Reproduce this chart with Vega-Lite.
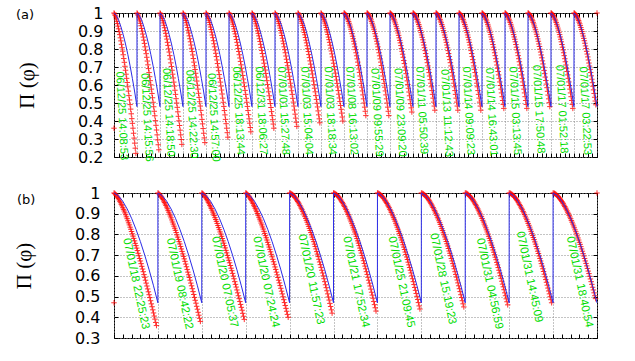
{
"$schema": "https://vega.github.io/schema/vega-lite/v6.json",
"background": "white",
"padding": {"left": 13, "top": 4, "right": 5, "bottom": 5},
"config": {"view": {"stroke": "black", "strokeWidth": 1}, "axis": {"tickColor": "black", "tickWidth": 1}},
"datasets": {
"ra": [
{"x":0,"y":0.36},{"x":21,"y":1},
{"x":0,"y":1},{"x":0.05,"y":0.987},{"x":0.1,"y":0.967},{"x":0.15,"y":0.941},{"x":0.2,"y":0.912},{"x":0.25,"y":0.88},{"x":0.3,"y":0.845},{"x":0.35,"y":0.807},{"x":0.4,"y":0.768},{"x":0.45,"y":0.726},{"x":0.5,"y":0.682},{"x":0.55,"y":0.637},{"x":0.6,"y":0.59},{"x":0.65,"y":0.541},{"x":0.7,"y":0.491},{"x":0.75,"y":0.44},{"x":0.8,"y":0.387},{"x":0.85,"y":0.332},{"x":0.9,"y":0.277},{"x":0.95,"y":0.22},
{"x":1,"y":1},{"x":1.05,"y":0.988},{"x":1.1,"y":0.967},{"x":1.15,"y":0.943},{"x":1.2,"y":0.914},{"x":1.25,"y":0.883},{"x":1.3,"y":0.849},{"x":1.35,"y":0.812},{"x":1.4,"y":0.774},{"x":1.45,"y":0.733},{"x":1.5,"y":0.691},{"x":1.55,"y":0.646},{"x":1.6,"y":0.601},{"x":1.65,"y":0.553},{"x":1.7,"y":0.504},{"x":1.75,"y":0.454},{"x":1.8,"y":0.402},{"x":1.85,"y":0.35},{"x":1.9,"y":0.295},{"x":1.95,"y":0.24},
{"x":2,"y":1},{"x":2.05,"y":0.988},{"x":2.1,"y":0.969},{"x":2.15,"y":0.945},{"x":2.2,"y":0.918},{"x":2.25,"y":0.887},{"x":2.3,"y":0.855},{"x":2.35,"y":0.82},{"x":2.4,"y":0.783},{"x":2.45,"y":0.744},{"x":2.5,"y":0.703},{"x":2.55,"y":0.66},{"x":2.6,"y":0.616},{"x":2.65,"y":0.571},{"x":2.7,"y":0.524},{"x":2.75,"y":0.476},{"x":2.8,"y":0.426},{"x":2.85,"y":0.375},{"x":2.9,"y":0.323},{"x":2.95,"y":0.27},
{"x":3,"y":1},{"x":3.05,"y":0.988},{"x":3.1,"y":0.969},{"x":3.15,"y":0.946},{"x":3.2,"y":0.919},{"x":3.25,"y":0.889},{"x":3.3,"y":0.857},{"x":3.35,"y":0.822},{"x":3.4,"y":0.786},{"x":3.45,"y":0.747},{"x":3.5,"y":0.707},{"x":3.55,"y":0.665},{"x":3.6,"y":0.622},{"x":3.65,"y":0.577},{"x":3.7,"y":0.531},{"x":3.75,"y":0.483},{"x":3.8,"y":0.434},{"x":3.85,"y":0.384},{"x":3.9,"y":0.332},{"x":3.95,"y":0.28},
{"x":4,"y":1},{"x":4.05,"y":0.989},{"x":4.1,"y":0.97},{"x":4.15,"y":0.948},{"x":4.2,"y":0.922},{"x":4.25,"y":0.894},{"x":4.3,"y":0.863},{"x":4.35,"y":0.829},{"x":4.4,"y":0.794},{"x":4.45,"y":0.758},{"x":4.5,"y":0.719},{"x":4.55,"y":0.679},{"x":4.6,"y":0.637},{"x":4.65,"y":0.594},{"x":4.7,"y":0.55},{"x":4.75,"y":0.504},{"x":4.8,"y":0.458},{"x":4.85,"y":0.409},{"x":4.9,"y":0.36},{"x":4.95,"y":0.31},
{"x":5,"y":1},{"x":5.05,"y":0.989},{"x":5.1,"y":0.972},{"x":5.15,"y":0.95},{"x":5.2,"y":0.926},{"x":5.25,"y":0.898},{"x":5.3,"y":0.869},{"x":5.35,"y":0.837},{"x":5.4,"y":0.803},{"x":5.45,"y":0.768},{"x":5.5,"y":0.731},{"x":5.55,"y":0.693},{"x":5.6,"y":0.653},{"x":5.65,"y":0.612},{"x":5.7,"y":0.57},{"x":5.75,"y":0.526},{"x":5.8,"y":0.481},{"x":5.85,"y":0.435},{"x":5.9,"y":0.388},{"x":5.95,"y":0.34},
{"x":6,"y":1},{"x":6.05,"y":0.99},{"x":6.1,"y":0.973},{"x":6.15,"y":0.952},{"x":6.2,"y":0.928},{"x":6.25,"y":0.901},{"x":6.3,"y":0.873},{"x":6.35,"y":0.842},{"x":6.4,"y":0.809},{"x":6.45,"y":0.775},{"x":6.5,"y":0.739},{"x":6.55,"y":0.702},{"x":6.6,"y":0.664},{"x":6.65,"y":0.624},{"x":6.7,"y":0.583},{"x":6.75,"y":0.54},{"x":6.8,"y":0.497},{"x":6.85,"y":0.452},{"x":6.9,"y":0.407},{"x":6.95,"y":0.36},
{"x":7,"y":1},{"x":7.05,"y":0.99},{"x":7.1,"y":0.973},{"x":7.15,"y":0.952},{"x":7.2,"y":0.929},{"x":7.25,"y":0.903},{"x":7.3,"y":0.875},{"x":7.35,"y":0.844},{"x":7.4,"y":0.812},{"x":7.45,"y":0.779},{"x":7.5,"y":0.743},{"x":7.55,"y":0.707},{"x":7.6,"y":0.669},{"x":7.65,"y":0.63},{"x":7.7,"y":0.589},{"x":7.75,"y":0.548},{"x":7.8,"y":0.505},{"x":7.85,"y":0.461},{"x":7.9,"y":0.416},{"x":7.95,"y":0.37},
{"x":8,"y":1},{"x":8.05,"y":0.99},{"x":8.1,"y":0.974},{"x":8.15,"y":0.954},{"x":8.2,"y":0.931},{"x":8.25,"y":0.906},{"x":8.3,"y":0.879},{"x":8.35,"y":0.849},{"x":8.4,"y":0.818},{"x":8.45,"y":0.786},{"x":8.5,"y":0.752},{"x":8.55,"y":0.716},{"x":8.6,"y":0.679},{"x":8.65,"y":0.641},{"x":8.7,"y":0.602},{"x":8.75,"y":0.562},{"x":8.8,"y":0.52},{"x":8.85,"y":0.478},{"x":8.9,"y":0.434},{"x":8.95,"y":0.39},
{"x":9,"y":1},{"x":9.05,"y":0.99},{"x":9.1,"y":0.974},{"x":9.15,"y":0.955},{"x":9.2,"y":0.932},{"x":9.25,"y":0.907},{"x":9.3,"y":0.881},{"x":9.35,"y":0.852},{"x":9.4,"y":0.821},{"x":9.45,"y":0.789},{"x":9.5,"y":0.756},{"x":9.55,"y":0.721},{"x":9.6,"y":0.685},{"x":9.65,"y":0.647},{"x":9.7,"y":0.609},{"x":9.75,"y":0.569},{"x":9.8,"y":0.528},{"x":9.85,"y":0.486},{"x":9.9,"y":0.444},{"x":9.95,"y":0.4},
{"x":10,"y":1},{"x":10.05,"y":0.995},{"x":10.1,"y":0.984},{"x":10.15,"y":0.97},{"x":10.2,"y":0.953},{"x":10.25,"y":0.933},{"x":10.3,"y":0.91},{"x":10.35,"y":0.885},{"x":10.4,"y":0.857},{"x":10.45,"y":0.828},{"x":10.5,"y":0.796},{"x":10.55,"y":0.762},{"x":10.6,"y":0.727},{"x":10.65,"y":0.689},{"x":10.7,"y":0.65},{"x":10.75,"y":0.609},{"x":10.8,"y":0.567},{"x":10.85,"y":0.523},{"x":10.9,"y":0.477},{"x":10.95,"y":0.43},
{"x":11,"y":1},{"x":11.05,"y":0.995},{"x":11.1,"y":0.984},{"x":11.15,"y":0.97},{"x":11.2,"y":0.953},{"x":11.25,"y":0.933},{"x":11.3,"y":0.91},{"x":11.35,"y":0.885},{"x":11.4,"y":0.857},{"x":11.45,"y":0.828},{"x":11.5,"y":0.796},{"x":11.55,"y":0.762},{"x":11.6,"y":0.727},{"x":11.65,"y":0.689},{"x":11.7,"y":0.65},{"x":11.75,"y":0.609},{"x":11.8,"y":0.567},{"x":11.85,"y":0.523},{"x":11.9,"y":0.477},{"x":11.95,"y":0.43},
{"x":12,"y":1},{"x":12.05,"y":0.995},{"x":12.1,"y":0.985},{"x":12.15,"y":0.971},{"x":12.2,"y":0.955},{"x":12.25,"y":0.935},{"x":12.3,"y":0.913},{"x":12.35,"y":0.889},{"x":12.4,"y":0.862},{"x":12.45,"y":0.834},{"x":12.5,"y":0.803},{"x":12.55,"y":0.771},{"x":12.6,"y":0.736},{"x":12.65,"y":0.7},{"x":12.7,"y":0.663},{"x":12.75,"y":0.623},{"x":12.8,"y":0.582},{"x":12.85,"y":0.54},{"x":12.9,"y":0.496},{"x":12.95,"y":0.45},
{"x":13,"y":1},{"x":13.05,"y":0.995},{"x":13.1,"y":0.985},{"x":13.15,"y":0.972},{"x":13.2,"y":0.955},{"x":13.25,"y":0.936},{"x":13.3,"y":0.915},{"x":13.35,"y":0.891},{"x":13.4,"y":0.865},{"x":13.45,"y":0.837},{"x":13.5,"y":0.807},{"x":13.55,"y":0.775},{"x":13.6,"y":0.741},{"x":13.65,"y":0.706},{"x":13.7,"y":0.669},{"x":13.75,"y":0.63},{"x":13.8,"y":0.59},{"x":13.85,"y":0.548},{"x":13.9,"y":0.505},{"x":13.95,"y":0.46},
{"x":14,"y":1},{"x":14.05,"y":0.995},{"x":14.1,"y":0.985},{"x":14.15,"y":0.972},{"x":14.2,"y":0.955},{"x":14.25,"y":0.936},{"x":14.3,"y":0.915},{"x":14.35,"y":0.891},{"x":14.4,"y":0.865},{"x":14.45,"y":0.837},{"x":14.5,"y":0.807},{"x":14.55,"y":0.775},{"x":14.6,"y":0.741},{"x":14.65,"y":0.706},{"x":14.7,"y":0.669},{"x":14.75,"y":0.63},{"x":14.8,"y":0.59},{"x":14.85,"y":0.548},{"x":14.9,"y":0.505},{"x":14.95,"y":0.46},
{"x":15,"y":1},{"x":15.05,"y":0.995},{"x":15.1,"y":0.985},{"x":15.15,"y":0.972},{"x":15.2,"y":0.955},{"x":15.25,"y":0.936},{"x":15.3,"y":0.915},{"x":15.35,"y":0.891},{"x":15.4,"y":0.865},{"x":15.45,"y":0.837},{"x":15.5,"y":0.807},{"x":15.55,"y":0.775},{"x":15.6,"y":0.741},{"x":15.65,"y":0.706},{"x":15.7,"y":0.669},{"x":15.75,"y":0.63},{"x":15.8,"y":0.59},{"x":15.85,"y":0.548},{"x":15.9,"y":0.505},{"x":15.95,"y":0.46},
{"x":16,"y":1},{"x":16.05,"y":0.995},{"x":16.1,"y":0.986},{"x":16.15,"y":0.972},{"x":16.2,"y":0.956},{"x":16.25,"y":0.937},{"x":16.3,"y":0.916},{"x":16.35,"y":0.893},{"x":16.4,"y":0.867},{"x":16.45,"y":0.84},{"x":16.5,"y":0.81},{"x":16.55,"y":0.779},{"x":16.6,"y":0.746},{"x":16.65,"y":0.711},{"x":16.7,"y":0.675},{"x":16.75,"y":0.637},{"x":16.8,"y":0.597},{"x":16.85,"y":0.556},{"x":16.9,"y":0.514},{"x":16.95,"y":0.47},
{"x":17,"y":1},{"x":17.05,"y":0.995},{"x":17.1,"y":0.986},{"x":17.15,"y":0.972},{"x":17.2,"y":0.956},{"x":17.25,"y":0.937},{"x":17.3,"y":0.916},{"x":17.35,"y":0.893},{"x":17.4,"y":0.867},{"x":17.45,"y":0.84},{"x":17.5,"y":0.81},{"x":17.55,"y":0.779},{"x":17.6,"y":0.746},{"x":17.65,"y":0.711},{"x":17.7,"y":0.675},{"x":17.75,"y":0.637},{"x":17.8,"y":0.597},{"x":17.85,"y":0.556},{"x":17.9,"y":0.514},{"x":17.95,"y":0.47},
{"x":18,"y":1},{"x":18.05,"y":0.995},{"x":18.1,"y":0.986},{"x":18.15,"y":0.973},{"x":18.2,"y":0.957},{"x":18.25,"y":0.939},{"x":18.3,"y":0.918},{"x":18.35,"y":0.895},{"x":18.4,"y":0.87},{"x":18.45,"y":0.843},{"x":18.5,"y":0.814},{"x":18.55,"y":0.783},{"x":18.6,"y":0.751},{"x":18.65,"y":0.717},{"x":18.7,"y":0.681},{"x":18.75,"y":0.644},{"x":18.8,"y":0.605},{"x":18.85,"y":0.565},{"x":18.9,"y":0.523},{"x":18.95,"y":0.48},
{"x":19,"y":1},{"x":19.05,"y":0.995},{"x":19.1,"y":0.986},{"x":19.15,"y":0.972},{"x":19.2,"y":0.956},{"x":19.25,"y":0.937},{"x":19.3,"y":0.916},{"x":19.35,"y":0.893},{"x":19.4,"y":0.867},{"x":19.45,"y":0.84},{"x":19.5,"y":0.81},{"x":19.55,"y":0.779},{"x":19.6,"y":0.746},{"x":19.65,"y":0.711},{"x":19.7,"y":0.675},{"x":19.75,"y":0.637},{"x":19.8,"y":0.597},{"x":19.85,"y":0.556},{"x":19.9,"y":0.514},{"x":19.95,"y":0.47},
{"x":20,"y":1},{"x":20.05,"y":0.995},{"x":20.1,"y":0.986},{"x":20.15,"y":0.973},{"x":20.2,"y":0.958},{"x":20.25,"y":0.94},{"x":20.3,"y":0.919},{"x":20.35,"y":0.897},{"x":20.4,"y":0.872},{"x":20.45,"y":0.846},{"x":20.5,"y":0.817},{"x":20.55,"y":0.787},{"x":20.6,"y":0.756},{"x":20.65,"y":0.722},{"x":20.7,"y":0.687},{"x":20.75,"y":0.651},{"x":20.8,"y":0.613},{"x":20.85,"y":0.573},{"x":20.9,"y":0.532},{"x":20.95,"y":0.49},
{"x":0.025,"y":0.995},{"x":0.075,"y":0.978},{"x":0.125,"y":0.954},{"x":0.175,"y":0.927},{"x":0.225,"y":0.896},{"x":0.275,"y":0.862},{"x":0.325,"y":0.826},{"x":0.375,"y":0.788},{"x":0.425,"y":0.747},{"x":0.475,"y":0.704},{"x":0.525,"y":0.66},{"x":0.575,"y":0.614},{"x":0.625,"y":0.566},{"x":0.675,"y":0.517},{"x":0.725,"y":0.466},{"x":0.775,"y":0.413},{"x":0.825,"y":0.36},{"x":0.875,"y":0.305},{"x":0.925,"y":0.249},
{"x":1.025,"y":0.995},{"x":1.075,"y":0.978},{"x":1.125,"y":0.956},{"x":1.175,"y":0.929},{"x":1.225,"y":0.899},{"x":1.275,"y":0.866},{"x":1.325,"y":0.831},{"x":1.375,"y":0.793},{"x":1.425,"y":0.754},{"x":1.475,"y":0.712},{"x":1.525,"y":0.669},{"x":1.575,"y":0.624},{"x":1.625,"y":0.577},{"x":1.675,"y":0.529},{"x":1.725,"y":0.479},{"x":1.775,"y":0.429},{"x":1.825,"y":0.376},{"x":1.875,"y":0.323},{"x":1.925,"y":0.268},
{"x":2.025,"y":0.996},{"x":2.075,"y":0.979},{"x":2.125,"y":0.957},{"x":2.175,"y":0.932},{"x":2.225,"y":0.903},{"x":2.275,"y":0.871},{"x":2.325,"y":0.837},{"x":2.375,"y":0.801},{"x":2.425,"y":0.763},{"x":2.475,"y":0.723},{"x":2.525,"y":0.682},{"x":2.575,"y":0.639},{"x":2.625,"y":0.594},{"x":2.675,"y":0.548},{"x":2.725,"y":0.5},{"x":2.775,"y":0.451},{"x":2.825,"y":0.401},{"x":2.875,"y":0.349},{"x":2.925,"y":0.297},
{"x":3.025,"y":0.996},{"x":3.075,"y":0.979},{"x":3.125,"y":0.958},{"x":3.175,"y":0.933},{"x":3.225,"y":0.904},{"x":3.275,"y":0.873},{"x":3.325,"y":0.84},{"x":3.375,"y":0.804},{"x":3.425,"y":0.767},{"x":3.475,"y":0.727},{"x":3.525,"y":0.686},{"x":3.575,"y":0.644},{"x":3.625,"y":0.599},{"x":3.675,"y":0.554},{"x":3.725,"y":0.507},{"x":3.775,"y":0.459},{"x":3.825,"y":0.409},{"x":3.875,"y":0.358},{"x":3.925,"y":0.306},
{"x":4.025,"y":0.996},{"x":4.075,"y":0.98},{"x":4.125,"y":0.96},{"x":4.175,"y":0.935},{"x":4.225,"y":0.908},{"x":4.275,"y":0.878},{"x":4.325,"y":0.846},{"x":4.375,"y":0.812},{"x":4.425,"y":0.776},{"x":4.475,"y":0.739},{"x":4.525,"y":0.699},{"x":4.575,"y":0.658},{"x":4.625,"y":0.616},{"x":4.675,"y":0.572},{"x":4.725,"y":0.527},{"x":4.775,"y":0.481},{"x":4.825,"y":0.434},{"x":4.875,"y":0.385},{"x":4.925,"y":0.335},
{"x":5.025,"y":0.996},{"x":5.075,"y":0.981},{"x":5.125,"y":0.961},{"x":5.175,"y":0.938},{"x":5.225,"y":0.912},{"x":5.275,"y":0.884},{"x":5.325,"y":0.853},{"x":5.375,"y":0.82},{"x":5.425,"y":0.786},{"x":5.475,"y":0.75},{"x":5.525,"y":0.712},{"x":5.575,"y":0.673},{"x":5.625,"y":0.633},{"x":5.675,"y":0.591},{"x":5.725,"y":0.548},{"x":5.775,"y":0.504},{"x":5.825,"y":0.458},{"x":5.875,"y":0.412},{"x":5.925,"y":0.364},
{"x":6.025,"y":0.996},{"x":6.075,"y":0.982},{"x":6.125,"y":0.963},{"x":6.175,"y":0.94},{"x":6.225,"y":0.915},{"x":6.275,"y":0.887},{"x":6.325,"y":0.857},{"x":6.375,"y":0.826},{"x":6.425,"y":0.792},{"x":6.475,"y":0.757},{"x":6.525,"y":0.721},{"x":6.575,"y":0.683},{"x":6.625,"y":0.644},{"x":6.675,"y":0.603},{"x":6.725,"y":0.562},{"x":6.775,"y":0.519},{"x":6.825,"y":0.475},{"x":6.875,"y":0.43},{"x":6.925,"y":0.383},
{"x":7.025,"y":0.996},{"x":7.075,"y":0.982},{"x":7.125,"y":0.963},{"x":7.175,"y":0.941},{"x":7.225,"y":0.916},{"x":7.275,"y":0.889},{"x":7.325,"y":0.86},{"x":7.375,"y":0.829},{"x":7.425,"y":0.796},{"x":7.475,"y":0.761},{"x":7.525,"y":0.725},{"x":7.575,"y":0.688},{"x":7.625,"y":0.649},{"x":7.675,"y":0.61},{"x":7.725,"y":0.568},{"x":7.775,"y":0.526},{"x":7.825,"y":0.483},{"x":7.875,"y":0.438},{"x":7.925,"y":0.393},
{"x":8.025,"y":0.996},{"x":8.075,"y":0.983},{"x":8.125,"y":0.964},{"x":8.175,"y":0.943},{"x":8.225,"y":0.919},{"x":8.275,"y":0.892},{"x":8.325,"y":0.864},{"x":8.375,"y":0.834},{"x":8.425,"y":0.802},{"x":8.475,"y":0.769},{"x":8.525,"y":0.734},{"x":8.575,"y":0.698},{"x":8.625,"y":0.661},{"x":8.675,"y":0.622},{"x":8.725,"y":0.582},{"x":8.775,"y":0.541},{"x":8.825,"y":0.499},{"x":8.875,"y":0.456},{"x":8.925,"y":0.412},
{"x":9.025,"y":0.996},{"x":9.075,"y":0.983},{"x":9.125,"y":0.965},{"x":9.175,"y":0.944},{"x":9.225,"y":0.92},{"x":9.275,"y":0.894},{"x":9.325,"y":0.866},{"x":9.375,"y":0.837},{"x":9.425,"y":0.805},{"x":9.475,"y":0.773},{"x":9.525,"y":0.738},{"x":9.575,"y":0.703},{"x":9.625,"y":0.666},{"x":9.675,"y":0.628},{"x":9.725,"y":0.589},{"x":9.775,"y":0.549},{"x":9.825,"y":0.508},{"x":9.875,"y":0.465},{"x":9.925,"y":0.422},
{"x":10.025,"y":0.998},{"x":10.075,"y":0.99},{"x":10.125,"y":0.978},{"x":10.175,"y":0.962},{"x":10.225,"y":0.943},{"x":10.275,"y":0.922},{"x":10.325,"y":0.898},{"x":10.375,"y":0.871},{"x":10.425,"y":0.843},{"x":10.475,"y":0.812},{"x":10.525,"y":0.779},{"x":10.575,"y":0.745},{"x":10.625,"y":0.708},{"x":10.675,"y":0.67},{"x":10.725,"y":0.63},{"x":10.775,"y":0.588},{"x":10.825,"y":0.545},{"x":10.875,"y":0.5},{"x":10.925,"y":0.454},
{"x":11.025,"y":0.998},{"x":11.075,"y":0.99},{"x":11.125,"y":0.978},{"x":11.175,"y":0.962},{"x":11.225,"y":0.943},{"x":11.275,"y":0.922},{"x":11.325,"y":0.898},{"x":11.375,"y":0.871},{"x":11.425,"y":0.843},{"x":11.475,"y":0.812},{"x":11.525,"y":0.779},{"x":11.575,"y":0.745},{"x":11.625,"y":0.708},{"x":11.675,"y":0.67},{"x":11.725,"y":0.63},{"x":11.775,"y":0.588},{"x":11.825,"y":0.545},{"x":11.875,"y":0.5},{"x":11.925,"y":0.454},
{"x":12.025,"y":0.998},{"x":12.075,"y":0.991},{"x":12.125,"y":0.979},{"x":12.175,"y":0.963},{"x":12.225,"y":0.945},{"x":12.275,"y":0.924},{"x":12.325,"y":0.901},{"x":12.375,"y":0.876},{"x":12.425,"y":0.848},{"x":12.475,"y":0.819},{"x":12.525,"y":0.787},{"x":12.575,"y":0.754},{"x":12.625,"y":0.719},{"x":12.675,"y":0.682},{"x":12.725,"y":0.643},{"x":12.775,"y":0.603},{"x":12.825,"y":0.561},{"x":12.875,"y":0.518},{"x":12.925,"y":0.473},
{"x":13.025,"y":0.998},{"x":13.075,"y":0.991},{"x":13.125,"y":0.979},{"x":13.175,"y":0.964},{"x":13.225,"y":0.946},{"x":13.275,"y":0.926},{"x":13.325,"y":0.903},{"x":13.375,"y":0.878},{"x":13.425,"y":0.851},{"x":13.475,"y":0.822},{"x":13.525,"y":0.791},{"x":13.575,"y":0.758},{"x":13.625,"y":0.724},{"x":13.675,"y":0.687},{"x":13.725,"y":0.65},{"x":13.775,"y":0.61},{"x":13.825,"y":0.569},{"x":13.875,"y":0.527},{"x":13.925,"y":0.483},
{"x":14.025,"y":0.998},{"x":14.075,"y":0.991},{"x":14.125,"y":0.979},{"x":14.175,"y":0.964},{"x":14.225,"y":0.946},{"x":14.275,"y":0.926},{"x":14.325,"y":0.903},{"x":14.375,"y":0.878},{"x":14.425,"y":0.851},{"x":14.475,"y":0.822},{"x":14.525,"y":0.791},{"x":14.575,"y":0.758},{"x":14.625,"y":0.724},{"x":14.675,"y":0.687},{"x":14.725,"y":0.65},{"x":14.775,"y":0.61},{"x":14.825,"y":0.569},{"x":14.875,"y":0.527},{"x":14.925,"y":0.483},
{"x":15.025,"y":0.998},{"x":15.075,"y":0.991},{"x":15.125,"y":0.979},{"x":15.175,"y":0.964},{"x":15.225,"y":0.946},{"x":15.275,"y":0.926},{"x":15.325,"y":0.903},{"x":15.375,"y":0.878},{"x":15.425,"y":0.851},{"x":15.475,"y":0.822},{"x":15.525,"y":0.791},{"x":15.575,"y":0.758},{"x":15.625,"y":0.724},{"x":15.675,"y":0.687},{"x":15.725,"y":0.65},{"x":15.775,"y":0.61},{"x":15.825,"y":0.569},{"x":15.875,"y":0.527},{"x":15.925,"y":0.483},
{"x":16.025,"y":0.998},{"x":16.075,"y":0.991},{"x":16.125,"y":0.979},{"x":16.175,"y":0.965},{"x":16.225,"y":0.947},{"x":16.275,"y":0.927},{"x":16.325,"y":0.905},{"x":16.375,"y":0.88},{"x":16.425,"y":0.854},{"x":16.475,"y":0.825},{"x":16.525,"y":0.795},{"x":16.575,"y":0.763},{"x":16.625,"y":0.729},{"x":16.675,"y":0.693},{"x":16.725,"y":0.656},{"x":16.775,"y":0.617},{"x":16.825,"y":0.577},{"x":16.875,"y":0.535},{"x":16.925,"y":0.492},
{"x":17.025,"y":0.998},{"x":17.075,"y":0.991},{"x":17.125,"y":0.979},{"x":17.175,"y":0.965},{"x":17.225,"y":0.947},{"x":17.275,"y":0.927},{"x":17.325,"y":0.905},{"x":17.375,"y":0.88},{"x":17.425,"y":0.854},{"x":17.475,"y":0.825},{"x":17.525,"y":0.795},{"x":17.575,"y":0.763},{"x":17.625,"y":0.729},{"x":17.675,"y":0.693},{"x":17.725,"y":0.656},{"x":17.775,"y":0.617},{"x":17.825,"y":0.577},{"x":17.875,"y":0.535},{"x":17.925,"y":0.492},
{"x":18.025,"y":0.998},{"x":18.075,"y":0.991},{"x":18.125,"y":0.98},{"x":18.175,"y":0.965},{"x":18.225,"y":0.948},{"x":18.275,"y":0.928},{"x":18.325,"y":0.907},{"x":18.375,"y":0.882},{"x":18.425,"y":0.856},{"x":18.475,"y":0.828},{"x":18.525,"y":0.799},{"x":18.575,"y":0.767},{"x":18.625,"y":0.734},{"x":18.675,"y":0.699},{"x":18.725,"y":0.663},{"x":18.775,"y":0.625},{"x":18.825,"y":0.585},{"x":18.875,"y":0.544},{"x":18.925,"y":0.502},
{"x":19.025,"y":0.998},{"x":19.075,"y":0.991},{"x":19.125,"y":0.979},{"x":19.175,"y":0.965},{"x":19.225,"y":0.947},{"x":19.275,"y":0.927},{"x":19.325,"y":0.905},{"x":19.375,"y":0.88},{"x":19.425,"y":0.854},{"x":19.475,"y":0.825},{"x":19.525,"y":0.795},{"x":19.575,"y":0.763},{"x":19.625,"y":0.729},{"x":19.675,"y":0.693},{"x":19.725,"y":0.656},{"x":19.775,"y":0.617},{"x":19.825,"y":0.577},{"x":19.875,"y":0.535},{"x":19.925,"y":0.492},
{"x":20.025,"y":0.998},{"x":20.075,"y":0.991},{"x":20.125,"y":0.98},{"x":20.175,"y":0.966},{"x":20.225,"y":0.949},{"x":20.275,"y":0.93},{"x":20.325,"y":0.908},{"x":20.375,"y":0.885},{"x":20.425,"y":0.859},{"x":20.475,"y":0.832},{"x":20.525,"y":0.803},{"x":20.575,"y":0.772},{"x":20.625,"y":0.739},{"x":20.675,"y":0.705},{"x":20.725,"y":0.669},{"x":20.775,"y":0.632},{"x":20.825,"y":0.593},{"x":20.875,"y":0.553},{"x":20.925,"y":0.511}
],
"ba": [
{"x":0,"y":1},{"x":0.1,"y":0.987},{"x":0.2,"y":0.96},{"x":0.3,"y":0.924},{"x":0.4,"y":0.88},{"x":0.5,"y":0.828},{"x":0.6,"y":0.77},{"x":0.7,"y":0.706},{"x":0.8,"y":0.636},{"x":0.9,"y":0.561},{"x":0.999,"y":0.48},
{"x":1,"y":1},{"x":1.1,"y":0.987},{"x":1.2,"y":0.96},{"x":1.3,"y":0.924},{"x":1.4,"y":0.88},{"x":1.5,"y":0.828},{"x":1.6,"y":0.77},{"x":1.7,"y":0.706},{"x":1.8,"y":0.636},{"x":1.9,"y":0.561},{"x":1.999,"y":0.48},
{"x":2,"y":1},{"x":2.1,"y":0.987},{"x":2.2,"y":0.96},{"x":2.3,"y":0.924},{"x":2.4,"y":0.88},{"x":2.5,"y":0.828},{"x":2.6,"y":0.77},{"x":2.7,"y":0.706},{"x":2.8,"y":0.636},{"x":2.9,"y":0.561},{"x":2.999,"y":0.48},
{"x":3,"y":1},{"x":3.1,"y":0.987},{"x":3.2,"y":0.96},{"x":3.3,"y":0.924},{"x":3.4,"y":0.88},{"x":3.5,"y":0.828},{"x":3.6,"y":0.77},{"x":3.7,"y":0.706},{"x":3.8,"y":0.636},{"x":3.9,"y":0.561},{"x":3.999,"y":0.48},
{"x":4,"y":1},{"x":4.1,"y":0.987},{"x":4.2,"y":0.96},{"x":4.3,"y":0.924},{"x":4.4,"y":0.88},{"x":4.5,"y":0.828},{"x":4.6,"y":0.77},{"x":4.7,"y":0.706},{"x":4.8,"y":0.636},{"x":4.9,"y":0.561},{"x":4.999,"y":0.48},
{"x":5,"y":1},{"x":5.1,"y":0.987},{"x":5.2,"y":0.96},{"x":5.3,"y":0.924},{"x":5.4,"y":0.88},{"x":5.5,"y":0.828},{"x":5.6,"y":0.77},{"x":5.7,"y":0.706},{"x":5.8,"y":0.636},{"x":5.9,"y":0.561},{"x":5.999,"y":0.48},
{"x":6,"y":1},{"x":6.1,"y":0.987},{"x":6.2,"y":0.96},{"x":6.3,"y":0.924},{"x":6.4,"y":0.88},{"x":6.5,"y":0.828},{"x":6.6,"y":0.77},{"x":6.7,"y":0.706},{"x":6.8,"y":0.636},{"x":6.9,"y":0.561},{"x":6.999,"y":0.48},
{"x":7,"y":1},{"x":7.1,"y":0.987},{"x":7.2,"y":0.96},{"x":7.3,"y":0.924},{"x":7.4,"y":0.88},{"x":7.5,"y":0.828},{"x":7.6,"y":0.77},{"x":7.7,"y":0.706},{"x":7.8,"y":0.636},{"x":7.9,"y":0.561},{"x":7.999,"y":0.48},
{"x":8,"y":1},{"x":8.1,"y":0.987},{"x":8.2,"y":0.96},{"x":8.3,"y":0.924},{"x":8.4,"y":0.88},{"x":8.5,"y":0.828},{"x":8.6,"y":0.77},{"x":8.7,"y":0.706},{"x":8.8,"y":0.636},{"x":8.9,"y":0.561},{"x":8.999,"y":0.48},
{"x":9,"y":1},{"x":9.1,"y":0.987},{"x":9.2,"y":0.96},{"x":9.3,"y":0.924},{"x":9.4,"y":0.88},{"x":9.5,"y":0.828},{"x":9.6,"y":0.77},{"x":9.7,"y":0.706},{"x":9.8,"y":0.636},{"x":9.9,"y":0.561},{"x":9.999,"y":0.48},
{"x":10,"y":1},{"x":10.1,"y":0.987},{"x":10.2,"y":0.96},{"x":10.3,"y":0.924},{"x":10.4,"y":0.88},{"x":10.5,"y":0.828},{"x":10.6,"y":0.77},{"x":10.7,"y":0.706},{"x":10.8,"y":0.636},{"x":10.9,"y":0.561},{"x":10.999,"y":0.48},
{"x":11,"y":1},{"x":11.1,"y":0.987},{"x":11.2,"y":0.96},{"x":11.3,"y":0.924},{"x":11.4,"y":0.88},{"x":11.5,"y":0.828},{"x":11.6,"y":0.77},{"x":11.7,"y":0.706},{"x":11.8,"y":0.636},{"x":11.9,"y":0.561},{"x":11.999,"y":0.48},
{"x":12,"y":1},{"x":12.1,"y":0.987},{"x":12.2,"y":0.96},{"x":12.3,"y":0.924},{"x":12.4,"y":0.88},{"x":12.5,"y":0.828},{"x":12.6,"y":0.77},{"x":12.7,"y":0.706},{"x":12.8,"y":0.636},{"x":12.9,"y":0.561},{"x":12.999,"y":0.48},
{"x":13,"y":1},{"x":13.1,"y":0.987},{"x":13.2,"y":0.96},{"x":13.3,"y":0.924},{"x":13.4,"y":0.88},{"x":13.5,"y":0.828},{"x":13.6,"y":0.77},{"x":13.7,"y":0.706},{"x":13.8,"y":0.636},{"x":13.9,"y":0.561},{"x":13.999,"y":0.48},
{"x":14,"y":1},{"x":14.1,"y":0.987},{"x":14.2,"y":0.96},{"x":14.3,"y":0.924},{"x":14.4,"y":0.88},{"x":14.5,"y":0.828},{"x":14.6,"y":0.77},{"x":14.7,"y":0.706},{"x":14.8,"y":0.636},{"x":14.9,"y":0.561},{"x":14.999,"y":0.48},
{"x":15,"y":1},{"x":15.1,"y":0.987},{"x":15.2,"y":0.96},{"x":15.3,"y":0.924},{"x":15.4,"y":0.88},{"x":15.5,"y":0.828},{"x":15.6,"y":0.77},{"x":15.7,"y":0.706},{"x":15.8,"y":0.636},{"x":15.9,"y":0.561},{"x":15.999,"y":0.48},
{"x":16,"y":1},{"x":16.1,"y":0.987},{"x":16.2,"y":0.96},{"x":16.3,"y":0.924},{"x":16.4,"y":0.88},{"x":16.5,"y":0.828},{"x":16.6,"y":0.77},{"x":16.7,"y":0.706},{"x":16.8,"y":0.636},{"x":16.9,"y":0.561},{"x":16.999,"y":0.48},
{"x":17,"y":1},{"x":17.1,"y":0.987},{"x":17.2,"y":0.96},{"x":17.3,"y":0.924},{"x":17.4,"y":0.88},{"x":17.5,"y":0.828},{"x":17.6,"y":0.77},{"x":17.7,"y":0.706},{"x":17.8,"y":0.636},{"x":17.9,"y":0.561},{"x":17.999,"y":0.48},
{"x":18,"y":1},{"x":18.1,"y":0.987},{"x":18.2,"y":0.96},{"x":18.3,"y":0.924},{"x":18.4,"y":0.88},{"x":18.5,"y":0.828},{"x":18.6,"y":0.77},{"x":18.7,"y":0.706},{"x":18.8,"y":0.636},{"x":18.9,"y":0.561},{"x":18.999,"y":0.48},
{"x":19,"y":1},{"x":19.1,"y":0.987},{"x":19.2,"y":0.96},{"x":19.3,"y":0.924},{"x":19.4,"y":0.88},{"x":19.5,"y":0.828},{"x":19.6,"y":0.77},{"x":19.7,"y":0.706},{"x":19.8,"y":0.636},{"x":19.9,"y":0.561},{"x":19.999,"y":0.48},
{"x":20,"y":1},{"x":20.1,"y":0.987},{"x":20.2,"y":0.96},{"x":20.3,"y":0.924},{"x":20.4,"y":0.88},{"x":20.5,"y":0.828},{"x":20.6,"y":0.77},{"x":20.7,"y":0.706},{"x":20.8,"y":0.636},{"x":20.9,"y":0.561},{"x":21,"y":0.48}
],
"la": [
{"x":0.1,"y":0.674,"t":"06/12/25 14:08:53"},
{"x":1.19,"y":0.665,"t":"06/12/25 14:15:56"},
{"x":2.13,"y":0.693,"t":"06/12/25 14:18:50"},
{"x":3.14,"y":0.683,"t":"06/12/25 14:22:30"},
{"x":4.09,"y":0.665,"t":"06/12/25 14:57:00"},
{"x":5.17,"y":0.702,"t":"06/12/25 18:13:44"},
{"x":6.16,"y":0.702,"t":"06/12/31 18:06:27"},
{"x":7.13,"y":0.702,"t":"07/01/01 15:27:48"},
{"x":8.14,"y":0.702,"t":"07/01/03 15:04:04"},
{"x":9.16,"y":0.702,"t":"07/01/03 18:18:34"},
{"x":10.1,"y":0.702,"t":"07/01/08 16:13:02"},
{"x":11.19,"y":0.693,"t":"07/01/09 09:55:29"},
{"x":12.2,"y":0.693,"t":"07/01/09 23:09:20"},
{"x":13.14,"y":0.702,"t":"07/01/11 05:50:39"},
{"x":14.23,"y":0.687,"t":"07/01/13 11:12:43"},
{"x":15.17,"y":0.702,"t":"07/01/14 09:09:23"},
{"x":16.17,"y":0.694,"t":"07/01/14 16:43:01"},
{"x":17.2,"y":0.702,"t":"07/01/15 03:13:45"},
{"x":18.22,"y":0.711,"t":"07/01/15 17:50:48"},
{"x":19.23,"y":0.711,"t":"07/01/17 01:52:18"},
{"x":20.25,"y":0.702,"t":"07/01/17 03:22:53"}
],
"rb": [
{"x":0,"y":0.47},{"x":11,"y":1},
{"x":0,"y":1},{"x":0.033,"y":0.994},{"x":0.067,"y":0.985},{"x":0.1,"y":0.973},{"x":0.133,"y":0.96},{"x":0.167,"y":0.945},{"x":0.2,"y":0.929},{"x":0.233,"y":0.913},{"x":0.267,"y":0.895},{"x":0.3,"y":0.876},{"x":0.333,"y":0.856},{"x":0.367,"y":0.835},{"x":0.4,"y":0.814},{"x":0.433,"y":0.792},{"x":0.467,"y":0.769},{"x":0.5,"y":0.746},{"x":0.533,"y":0.722},{"x":0.567,"y":0.697},{"x":0.6,"y":0.672},{"x":0.633,"y":0.646},{"x":0.667,"y":0.62},{"x":0.7,"y":0.593},{"x":0.733,"y":0.565},{"x":0.767,"y":0.537},{"x":0.8,"y":0.509},{"x":0.833,"y":0.48},{"x":0.867,"y":0.451},{"x":0.9,"y":0.421},{"x":0.933,"y":0.391},{"x":0.967,"y":0.36},
{"x":1,"y":1},{"x":1.033,"y":0.994},{"x":1.067,"y":0.985},{"x":1.1,"y":0.974},{"x":1.133,"y":0.961},{"x":1.167,"y":0.947},{"x":1.2,"y":0.932},{"x":1.233,"y":0.915},{"x":1.267,"y":0.898},{"x":1.3,"y":0.88},{"x":1.333,"y":0.86},{"x":1.367,"y":0.84},{"x":1.4,"y":0.82},{"x":1.433,"y":0.798},{"x":1.467,"y":0.776},{"x":1.5,"y":0.754},{"x":1.533,"y":0.73},{"x":1.567,"y":0.706},{"x":1.6,"y":0.682},{"x":1.633,"y":0.657},{"x":1.667,"y":0.631},{"x":1.7,"y":0.605},{"x":1.733,"y":0.579},{"x":1.767,"y":0.552},{"x":1.8,"y":0.524},{"x":1.833,"y":0.496},{"x":1.867,"y":0.468},{"x":1.9,"y":0.439},{"x":1.933,"y":0.41},{"x":1.967,"y":0.38},
{"x":2,"y":1},{"x":2.033,"y":0.995},{"x":2.067,"y":0.986},{"x":2.1,"y":0.975},{"x":2.133,"y":0.962},{"x":2.167,"y":0.948},{"x":2.2,"y":0.933},{"x":2.233,"y":0.917},{"x":2.267,"y":0.899},{"x":2.3,"y":0.881},{"x":2.333,"y":0.863},{"x":2.367,"y":0.843},{"x":2.4,"y":0.823},{"x":2.433,"y":0.802},{"x":2.467,"y":0.78},{"x":2.5,"y":0.758},{"x":2.533,"y":0.735},{"x":2.567,"y":0.711},{"x":2.6,"y":0.687},{"x":2.633,"y":0.663},{"x":2.667,"y":0.637},{"x":2.7,"y":0.612},{"x":2.733,"y":0.586},{"x":2.767,"y":0.559},{"x":2.8,"y":0.532},{"x":2.833,"y":0.504},{"x":2.867,"y":0.476},{"x":2.9,"y":0.448},{"x":2.933,"y":0.419},{"x":2.967,"y":0.39},
{"x":3,"y":1},{"x":3.033,"y":0.995},{"x":3.067,"y":0.986},{"x":3.1,"y":0.975},{"x":3.133,"y":0.963},{"x":3.167,"y":0.949},{"x":3.2,"y":0.934},{"x":3.233,"y":0.918},{"x":3.267,"y":0.901},{"x":3.3,"y":0.883},{"x":3.333,"y":0.865},{"x":3.367,"y":0.846},{"x":3.4,"y":0.826},{"x":3.433,"y":0.805},{"x":3.467,"y":0.784},{"x":3.5,"y":0.762},{"x":3.533,"y":0.739},{"x":3.567,"y":0.716},{"x":3.6,"y":0.692},{"x":3.633,"y":0.668},{"x":3.667,"y":0.643},{"x":3.7,"y":0.618},{"x":3.733,"y":0.592},{"x":3.767,"y":0.566},{"x":3.8,"y":0.54},{"x":3.833,"y":0.513},{"x":3.867,"y":0.485},{"x":3.9,"y":0.457},{"x":3.933,"y":0.429},{"x":3.967,"y":0.4},
{"x":4,"y":1},{"x":4.033,"y":0.997},{"x":4.067,"y":0.992},{"x":4.1,"y":0.985},{"x":4.133,"y":0.976},{"x":4.167,"y":0.965},{"x":4.2,"y":0.953},{"x":4.233,"y":0.94},{"x":4.267,"y":0.926},{"x":4.3,"y":0.911},{"x":4.333,"y":0.894},{"x":4.367,"y":0.877},{"x":4.4,"y":0.859},{"x":4.433,"y":0.839},{"x":4.467,"y":0.819},{"x":4.5,"y":0.798},{"x":4.533,"y":0.776},{"x":4.567,"y":0.753},{"x":4.6,"y":0.73},{"x":4.633,"y":0.705},{"x":4.667,"y":0.68},{"x":4.7,"y":0.654},{"x":4.733,"y":0.627},{"x":4.767,"y":0.6},{"x":4.8,"y":0.572},{"x":4.833,"y":0.543},{"x":4.867,"y":0.513},{"x":4.9,"y":0.483},{"x":4.933,"y":0.452},{"x":4.967,"y":0.42},
{"x":5,"y":1},{"x":5.033,"y":0.997},{"x":5.067,"y":0.992},{"x":5.1,"y":0.985},{"x":5.133,"y":0.976},{"x":5.167,"y":0.966},{"x":5.2,"y":0.954},{"x":5.233,"y":0.941},{"x":5.267,"y":0.927},{"x":5.3,"y":0.912},{"x":5.333,"y":0.896},{"x":5.367,"y":0.879},{"x":5.4,"y":0.861},{"x":5.433,"y":0.842},{"x":5.467,"y":0.822},{"x":5.5,"y":0.802},{"x":5.533,"y":0.78},{"x":5.567,"y":0.758},{"x":5.6,"y":0.734},{"x":5.633,"y":0.71},{"x":5.667,"y":0.686},{"x":5.7,"y":0.66},{"x":5.733,"y":0.634},{"x":5.767,"y":0.607},{"x":5.8,"y":0.579},{"x":5.833,"y":0.551},{"x":5.867,"y":0.521},{"x":5.9,"y":0.492},{"x":5.933,"y":0.461},{"x":5.967,"y":0.43},
{"x":6,"y":1},{"x":6.033,"y":0.997},{"x":6.067,"y":0.992},{"x":6.1,"y":0.985},{"x":6.133,"y":0.976},{"x":6.167,"y":0.966},{"x":6.2,"y":0.955},{"x":6.233,"y":0.942},{"x":6.267,"y":0.929},{"x":6.3,"y":0.914},{"x":6.333,"y":0.898},{"x":6.367,"y":0.881},{"x":6.4,"y":0.864},{"x":6.433,"y":0.845},{"x":6.467,"y":0.825},{"x":6.5,"y":0.805},{"x":6.533,"y":0.784},{"x":6.567,"y":0.762},{"x":6.6,"y":0.739},{"x":6.633,"y":0.715},{"x":6.667,"y":0.691},{"x":6.7,"y":0.666},{"x":6.733,"y":0.64},{"x":6.767,"y":0.614},{"x":6.8,"y":0.586},{"x":6.833,"y":0.558},{"x":6.867,"y":0.53},{"x":6.9,"y":0.501},{"x":6.933,"y":0.471},{"x":6.967,"y":0.44},
{"x":7,"y":1},{"x":7.033,"y":0.997},{"x":7.067,"y":0.992},{"x":7.1,"y":0.985},{"x":7.133,"y":0.977},{"x":7.167,"y":0.967},{"x":7.2,"y":0.956},{"x":7.233,"y":0.943},{"x":7.267,"y":0.93},{"x":7.3,"y":0.915},{"x":7.333,"y":0.9},{"x":7.367,"y":0.883},{"x":7.4,"y":0.866},{"x":7.433,"y":0.848},{"x":7.467,"y":0.828},{"x":7.5,"y":0.808},{"x":7.533,"y":0.788},{"x":7.567,"y":0.766},{"x":7.6,"y":0.744},{"x":7.633,"y":0.72},{"x":7.667,"y":0.697},{"x":7.7,"y":0.672},{"x":7.733,"y":0.647},{"x":7.767,"y":0.62},{"x":7.8,"y":0.594},{"x":7.833,"y":0.566},{"x":7.867,"y":0.538},{"x":7.9,"y":0.509},{"x":7.933,"y":0.48},{"x":7.967,"y":0.45},
{"x":8,"y":1},{"x":8.033,"y":0.998},{"x":8.067,"y":0.993},{"x":8.1,"y":0.986},{"x":8.133,"y":0.977},{"x":8.167,"y":0.968},{"x":8.2,"y":0.957},{"x":8.233,"y":0.944},{"x":8.267,"y":0.931},{"x":8.3,"y":0.917},{"x":8.333,"y":0.902},{"x":8.367,"y":0.886},{"x":8.4,"y":0.868},{"x":8.433,"y":0.85},{"x":8.467,"y":0.832},{"x":8.5,"y":0.812},{"x":8.533,"y":0.791},{"x":8.567,"y":0.77},{"x":8.6,"y":0.748},{"x":8.633,"y":0.725},{"x":8.667,"y":0.702},{"x":8.7,"y":0.678},{"x":8.733,"y":0.653},{"x":8.767,"y":0.627},{"x":8.8,"y":0.601},{"x":8.833,"y":0.574},{"x":8.867,"y":0.547},{"x":8.9,"y":0.518},{"x":8.933,"y":0.489},{"x":8.967,"y":0.46},
{"x":9,"y":1},{"x":9.033,"y":0.998},{"x":9.067,"y":0.993},{"x":9.1,"y":0.986},{"x":9.133,"y":0.978},{"x":9.167,"y":0.968},{"x":9.2,"y":0.957},{"x":9.233,"y":0.945},{"x":9.267,"y":0.932},{"x":9.3,"y":0.919},{"x":9.333,"y":0.904},{"x":9.367,"y":0.888},{"x":9.4,"y":0.871},{"x":9.433,"y":0.853},{"x":9.467,"y":0.835},{"x":9.5,"y":0.815},{"x":9.533,"y":0.795},{"x":9.567,"y":0.775},{"x":9.6,"y":0.753},{"x":9.633,"y":0.731},{"x":9.667,"y":0.708},{"x":9.7,"y":0.684},{"x":9.733,"y":0.659},{"x":9.767,"y":0.634},{"x":9.8,"y":0.608},{"x":9.833,"y":0.582},{"x":9.867,"y":0.555},{"x":9.9,"y":0.527},{"x":9.933,"y":0.499},{"x":9.967,"y":0.47},
{"x":10,"y":1},{"x":10.033,"y":0.998},{"x":10.067,"y":0.993},{"x":10.1,"y":0.986},{"x":10.133,"y":0.979},{"x":10.167,"y":0.969},{"x":10.2,"y":0.959},{"x":10.233,"y":0.948},{"x":10.267,"y":0.935},{"x":10.3,"y":0.922},{"x":10.333,"y":0.907},{"x":10.367,"y":0.892},{"x":10.4,"y":0.876},{"x":10.433,"y":0.859},{"x":10.467,"y":0.841},{"x":10.5,"y":0.822},{"x":10.533,"y":0.803},{"x":10.567,"y":0.783},{"x":10.6,"y":0.762},{"x":10.633,"y":0.741},{"x":10.667,"y":0.719},{"x":10.7,"y":0.696},{"x":10.733,"y":0.672},{"x":10.767,"y":0.648},{"x":10.8,"y":0.623},{"x":10.833,"y":0.598},{"x":10.867,"y":0.572},{"x":10.9,"y":0.545},{"x":10.933,"y":0.518},{"x":10.967,"y":0.49},
{"x":0.017,"y":0.998},{"x":0.05,"y":0.99},{"x":0.083,"y":0.979},{"x":0.117,"y":0.967},{"x":0.15,"y":0.953},{"x":0.183,"y":0.938},{"x":0.217,"y":0.921},{"x":0.25,"y":0.904},{"x":0.283,"y":0.885},{"x":0.317,"y":0.866},{"x":0.35,"y":0.846},{"x":0.383,"y":0.825},{"x":0.417,"y":0.803},{"x":0.45,"y":0.781},{"x":0.483,"y":0.757},{"x":0.517,"y":0.734},{"x":0.55,"y":0.709},{"x":0.583,"y":0.684},{"x":0.617,"y":0.659},{"x":0.65,"y":0.633},{"x":0.683,"y":0.606},{"x":0.717,"y":0.579},{"x":0.75,"y":0.551},{"x":0.783,"y":0.523},{"x":0.817,"y":0.495},{"x":0.85,"y":0.465},{"x":0.883,"y":0.436},{"x":0.917,"y":0.406},{"x":0.95,"y":0.375},
{"x":1.017,"y":0.998},{"x":1.05,"y":0.99},{"x":1.083,"y":0.98},{"x":1.117,"y":0.968},{"x":1.15,"y":0.954},{"x":1.183,"y":0.94},{"x":1.217,"y":0.924},{"x":1.25,"y":0.907},{"x":1.283,"y":0.889},{"x":1.317,"y":0.87},{"x":1.35,"y":0.85},{"x":1.383,"y":0.83},{"x":1.417,"y":0.809},{"x":1.45,"y":0.787},{"x":1.483,"y":0.765},{"x":1.517,"y":0.742},{"x":1.55,"y":0.718},{"x":1.583,"y":0.694},{"x":1.617,"y":0.67},{"x":1.65,"y":0.644},{"x":1.683,"y":0.618},{"x":1.717,"y":0.592},{"x":1.75,"y":0.565},{"x":1.783,"y":0.538},{"x":1.817,"y":0.51},{"x":1.85,"y":0.482},{"x":1.883,"y":0.453},{"x":1.917,"y":0.424},{"x":1.95,"y":0.395},
{"x":2.017,"y":0.998},{"x":2.05,"y":0.99},{"x":2.083,"y":0.98},{"x":2.117,"y":0.968},{"x":2.15,"y":0.955},{"x":2.183,"y":0.94},{"x":2.217,"y":0.925},{"x":2.25,"y":0.908},{"x":2.283,"y":0.891},{"x":2.317,"y":0.872},{"x":2.35,"y":0.853},{"x":2.383,"y":0.833},{"x":2.417,"y":0.812},{"x":2.45,"y":0.791},{"x":2.483,"y":0.769},{"x":2.517,"y":0.746},{"x":2.55,"y":0.723},{"x":2.583,"y":0.699},{"x":2.617,"y":0.675},{"x":2.65,"y":0.65},{"x":2.683,"y":0.625},{"x":2.717,"y":0.599},{"x":2.75,"y":0.572},{"x":2.783,"y":0.546},{"x":2.817,"y":0.518},{"x":2.85,"y":0.49},{"x":2.883,"y":0.462},{"x":2.917,"y":0.434},{"x":2.95,"y":0.405},
{"x":3.017,"y":0.998},{"x":3.05,"y":0.991},{"x":3.083,"y":0.981},{"x":3.117,"y":0.969},{"x":3.15,"y":0.956},{"x":3.183,"y":0.941},{"x":3.217,"y":0.926},{"x":3.25,"y":0.91},{"x":3.283,"y":0.892},{"x":3.317,"y":0.874},{"x":3.35,"y":0.855},{"x":3.383,"y":0.836},{"x":3.417,"y":0.815},{"x":3.45,"y":0.794},{"x":3.483,"y":0.773},{"x":3.517,"y":0.75},{"x":3.55,"y":0.728},{"x":3.583,"y":0.704},{"x":3.617,"y":0.68},{"x":3.65,"y":0.656},{"x":3.683,"y":0.631},{"x":3.717,"y":0.605},{"x":3.75,"y":0.579},{"x":3.783,"y":0.553},{"x":3.817,"y":0.526},{"x":3.85,"y":0.499},{"x":3.883,"y":0.471},{"x":3.917,"y":0.443},{"x":3.95,"y":0.414},
{"x":4.017,"y":0.999},{"x":4.05,"y":0.995},{"x":4.083,"y":0.989},{"x":4.117,"y":0.98},{"x":4.15,"y":0.971},{"x":4.183,"y":0.959},{"x":4.217,"y":0.947},{"x":4.25,"y":0.933},{"x":4.283,"y":0.919},{"x":4.317,"y":0.903},{"x":4.35,"y":0.886},{"x":4.383,"y":0.868},{"x":4.417,"y":0.849},{"x":4.45,"y":0.829},{"x":4.483,"y":0.809},{"x":4.517,"y":0.787},{"x":4.55,"y":0.765},{"x":4.583,"y":0.742},{"x":4.617,"y":0.717},{"x":4.65,"y":0.693},{"x":4.683,"y":0.667},{"x":4.717,"y":0.641},{"x":4.75,"y":0.614},{"x":4.783,"y":0.586},{"x":4.817,"y":0.557},{"x":4.85,"y":0.528},{"x":4.883,"y":0.498},{"x":4.917,"y":0.467},{"x":4.95,"y":0.436},
{"x":5.017,"y":0.999},{"x":5.05,"y":0.995},{"x":5.083,"y":0.989},{"x":5.117,"y":0.981},{"x":5.15,"y":0.971},{"x":5.183,"y":0.96},{"x":5.217,"y":0.948},{"x":5.25,"y":0.935},{"x":5.283,"y":0.92},{"x":5.317,"y":0.904},{"x":5.35,"y":0.888},{"x":5.383,"y":0.87},{"x":5.417,"y":0.852},{"x":5.45,"y":0.832},{"x":5.483,"y":0.812},{"x":5.517,"y":0.791},{"x":5.55,"y":0.769},{"x":5.583,"y":0.746},{"x":5.617,"y":0.722},{"x":5.65,"y":0.698},{"x":5.683,"y":0.673},{"x":5.717,"y":0.647},{"x":5.75,"y":0.62},{"x":5.783,"y":0.593},{"x":5.817,"y":0.565},{"x":5.85,"y":0.536},{"x":5.883,"y":0.507},{"x":5.917,"y":0.476},{"x":5.95,"y":0.446},
{"x":6.017,"y":0.999},{"x":6.05,"y":0.995},{"x":6.083,"y":0.989},{"x":6.117,"y":0.981},{"x":6.15,"y":0.972},{"x":6.183,"y":0.961},{"x":6.217,"y":0.949},{"x":6.25,"y":0.936},{"x":6.283,"y":0.921},{"x":6.317,"y":0.906},{"x":6.35,"y":0.89},{"x":6.383,"y":0.873},{"x":6.417,"y":0.854},{"x":6.45,"y":0.835},{"x":6.483,"y":0.815},{"x":6.517,"y":0.794},{"x":6.55,"y":0.773},{"x":6.583,"y":0.75},{"x":6.617,"y":0.727},{"x":6.65,"y":0.703},{"x":6.683,"y":0.679},{"x":6.717,"y":0.653},{"x":6.75,"y":0.627},{"x":6.783,"y":0.6},{"x":6.817,"y":0.572},{"x":6.85,"y":0.544},{"x":6.883,"y":0.515},{"x":6.917,"y":0.486},{"x":6.95,"y":0.455},
{"x":7.017,"y":0.999},{"x":7.05,"y":0.995},{"x":7.083,"y":0.989},{"x":7.117,"y":0.981},{"x":7.15,"y":0.972},{"x":7.183,"y":0.962},{"x":7.217,"y":0.95},{"x":7.25,"y":0.937},{"x":7.283,"y":0.923},{"x":7.317,"y":0.908},{"x":7.35,"y":0.892},{"x":7.383,"y":0.875},{"x":7.417,"y":0.857},{"x":7.45,"y":0.838},{"x":7.483,"y":0.819},{"x":7.517,"y":0.798},{"x":7.55,"y":0.777},{"x":7.583,"y":0.755},{"x":7.617,"y":0.732},{"x":7.65,"y":0.709},{"x":7.683,"y":0.684},{"x":7.717,"y":0.659},{"x":7.75,"y":0.634},{"x":7.783,"y":0.607},{"x":7.817,"y":0.58},{"x":7.85,"y":0.552},{"x":7.883,"y":0.524},{"x":7.917,"y":0.495},{"x":7.95,"y":0.465},
{"x":8.017,"y":0.999},{"x":8.05,"y":0.995},{"x":8.083,"y":0.989},{"x":8.117,"y":0.982},{"x":8.15,"y":0.973},{"x":8.183,"y":0.962},{"x":8.217,"y":0.951},{"x":8.25,"y":0.938},{"x":8.283,"y":0.924},{"x":8.317,"y":0.909},{"x":8.35,"y":0.894},{"x":8.383,"y":0.877},{"x":8.417,"y":0.86},{"x":8.45,"y":0.841},{"x":8.483,"y":0.822},{"x":8.517,"y":0.802},{"x":8.55,"y":0.781},{"x":8.583,"y":0.759},{"x":8.617,"y":0.737},{"x":8.65,"y":0.714},{"x":8.683,"y":0.69},{"x":8.717,"y":0.665},{"x":8.75,"y":0.64},{"x":8.783,"y":0.614},{"x":8.817,"y":0.588},{"x":8.85,"y":0.56},{"x":8.883,"y":0.533},{"x":8.917,"y":0.504},{"x":8.95,"y":0.475},
{"x":9.017,"y":0.999},{"x":9.05,"y":0.995},{"x":9.083,"y":0.99},{"x":9.117,"y":0.982},{"x":9.15,"y":0.973},{"x":9.183,"y":0.963},{"x":9.217,"y":0.952},{"x":9.25,"y":0.939},{"x":9.283,"y":0.926},{"x":9.317,"y":0.911},{"x":9.35,"y":0.896},{"x":9.383,"y":0.879},{"x":9.417,"y":0.862},{"x":9.45,"y":0.844},{"x":9.483,"y":0.825},{"x":9.517,"y":0.805},{"x":9.55,"y":0.785},{"x":9.583,"y":0.764},{"x":9.617,"y":0.742},{"x":9.65,"y":0.719},{"x":9.683,"y":0.696},{"x":9.717,"y":0.672},{"x":9.75,"y":0.647},{"x":9.783,"y":0.621},{"x":9.817,"y":0.595},{"x":9.85,"y":0.569},{"x":9.883,"y":0.541},{"x":9.917,"y":0.513},{"x":9.95,"y":0.485},
{"x":10.017,"y":0.999},{"x":10.05,"y":0.996},{"x":10.083,"y":0.99},{"x":10.117,"y":0.983},{"x":10.15,"y":0.974},{"x":10.183,"y":0.964},{"x":10.217,"y":0.953},{"x":10.25,"y":0.941},{"x":10.283,"y":0.928},{"x":10.317,"y":0.914},{"x":10.35,"y":0.9},{"x":10.383,"y":0.884},{"x":10.417,"y":0.867},{"x":10.45,"y":0.85},{"x":10.483,"y":0.832},{"x":10.517,"y":0.813},{"x":10.55,"y":0.793},{"x":10.583,"y":0.773},{"x":10.617,"y":0.752},{"x":10.65,"y":0.73},{"x":10.683,"y":0.707},{"x":10.717,"y":0.684},{"x":10.75,"y":0.66},{"x":10.783,"y":0.636},{"x":10.817,"y":0.611},{"x":10.85,"y":0.585},{"x":10.883,"y":0.559},{"x":10.917,"y":0.532},{"x":10.95,"y":0.504}
],
"bb": [
{"x":0,"y":1},{"x":0.1,"y":0.987},{"x":0.2,"y":0.96},{"x":0.3,"y":0.923},{"x":0.4,"y":0.878},{"x":0.5,"y":0.825},{"x":0.6,"y":0.766},{"x":0.7,"y":0.7},{"x":0.8,"y":0.629},{"x":0.9,"y":0.552},{"x":0.999,"y":0.47},
{"x":1,"y":1},{"x":1.1,"y":0.987},{"x":1.2,"y":0.96},{"x":1.3,"y":0.923},{"x":1.4,"y":0.878},{"x":1.5,"y":0.825},{"x":1.6,"y":0.766},{"x":1.7,"y":0.7},{"x":1.8,"y":0.629},{"x":1.9,"y":0.552},{"x":1.999,"y":0.47},
{"x":2,"y":1},{"x":2.1,"y":0.987},{"x":2.2,"y":0.96},{"x":2.3,"y":0.923},{"x":2.4,"y":0.878},{"x":2.5,"y":0.825},{"x":2.6,"y":0.766},{"x":2.7,"y":0.7},{"x":2.8,"y":0.629},{"x":2.9,"y":0.552},{"x":2.999,"y":0.47},
{"x":3,"y":1},{"x":3.1,"y":0.987},{"x":3.2,"y":0.96},{"x":3.3,"y":0.923},{"x":3.4,"y":0.878},{"x":3.5,"y":0.825},{"x":3.6,"y":0.766},{"x":3.7,"y":0.7},{"x":3.8,"y":0.629},{"x":3.9,"y":0.552},{"x":3.999,"y":0.47},
{"x":4,"y":1},{"x":4.1,"y":0.987},{"x":4.2,"y":0.96},{"x":4.3,"y":0.923},{"x":4.4,"y":0.878},{"x":4.5,"y":0.825},{"x":4.6,"y":0.766},{"x":4.7,"y":0.7},{"x":4.8,"y":0.629},{"x":4.9,"y":0.552},{"x":4.999,"y":0.47},
{"x":5,"y":1},{"x":5.1,"y":0.987},{"x":5.2,"y":0.96},{"x":5.3,"y":0.923},{"x":5.4,"y":0.878},{"x":5.5,"y":0.825},{"x":5.6,"y":0.766},{"x":5.7,"y":0.7},{"x":5.8,"y":0.629},{"x":5.9,"y":0.552},{"x":5.999,"y":0.47},
{"x":6,"y":1},{"x":6.1,"y":0.987},{"x":6.2,"y":0.96},{"x":6.3,"y":0.923},{"x":6.4,"y":0.878},{"x":6.5,"y":0.825},{"x":6.6,"y":0.766},{"x":6.7,"y":0.7},{"x":6.8,"y":0.629},{"x":6.9,"y":0.552},{"x":6.999,"y":0.47},
{"x":7,"y":1},{"x":7.1,"y":0.987},{"x":7.2,"y":0.96},{"x":7.3,"y":0.923},{"x":7.4,"y":0.878},{"x":7.5,"y":0.825},{"x":7.6,"y":0.766},{"x":7.7,"y":0.7},{"x":7.8,"y":0.629},{"x":7.9,"y":0.552},{"x":7.999,"y":0.47},
{"x":8,"y":1},{"x":8.1,"y":0.987},{"x":8.2,"y":0.96},{"x":8.3,"y":0.923},{"x":8.4,"y":0.878},{"x":8.5,"y":0.825},{"x":8.6,"y":0.766},{"x":8.7,"y":0.7},{"x":8.8,"y":0.629},{"x":8.9,"y":0.552},{"x":8.999,"y":0.47},
{"x":9,"y":1},{"x":9.1,"y":0.987},{"x":9.2,"y":0.96},{"x":9.3,"y":0.923},{"x":9.4,"y":0.878},{"x":9.5,"y":0.825},{"x":9.6,"y":0.766},{"x":9.7,"y":0.7},{"x":9.8,"y":0.629},{"x":9.9,"y":0.552},{"x":9.999,"y":0.47},
{"x":10,"y":1},{"x":10.1,"y":0.987},{"x":10.2,"y":0.96},{"x":10.3,"y":0.923},{"x":10.4,"y":0.878},{"x":10.5,"y":0.825},{"x":10.6,"y":0.766},{"x":10.7,"y":0.7},{"x":10.8,"y":0.629},{"x":10.9,"y":0.552},{"x":11,"y":0.47}
],
"lb": [
{"x":0.21,"y":0.778,"t":"07/01/18 22:25:23"},
{"x":1.2,"y":0.778,"t":"07/01/19 08:42:22"},
{"x":2.23,"y":0.786,"t":"07/01/20 07:05:37"},
{"x":3.17,"y":0.786,"t":"07/01/20 07:24:24"},
{"x":4.2,"y":0.797,"t":"07/01/20 11:57:23"},
{"x":5.22,"y":0.786,"t":"07/01/21 17:52:34"},
{"x":6.25,"y":0.786,"t":"07/01/25 21:09:45"},
{"x":7.2,"y":0.802,"t":"07/01/28 15:19:23"},
{"x":8.26,"y":0.778,"t":"07/01/31 04:56:59"},
{"x":9.17,"y":0.81,"t":"07/01/31 14:45:09"},
{"x":10.31,"y":0.786,"t":"07/01/31 18:40:54"}
]
},
"concat": [
{
"width": 483, "height": 144,
"resolve": {"axis": {"x": "independent", "y": "independent"}},
"layer": [
{"data": {"name": "ra"},
 "mark": {"type": "point", "shape": "M-1,0L1,0M0,-1L0,1", "filled": false, "size": 30, "stroke": "#ff0000", "strokeWidth": 1, "opacity": 0.8},
 "encoding": {
  "x": {"field": "x", "type": "quantitative", "scale": {"domain": [0, 21], "nice": false, "zero": false},
        "axis": {"orient": "bottom", "title": null, "labels": false, "domain": false, "tickSize": -4,
                 "values": [0,0.2,0.4,0.6,0.8,1,1.2,1.4,1.6,1.8,2,2.2,2.4,2.6,2.8,3,3.2,3.4,3.6,3.8,4,4.2,4.4,4.6,4.8,5,5.2,5.4,5.6,5.8,6,6.2,6.4,6.6,6.8,7,7.2,7.4,7.6,7.8,8,8.2,8.4,8.6,8.8,9,9.2,9.4,9.6,9.8,10,10.2,10.4,10.6,10.8,11,11.2,11.4,11.6,11.8,12,12.2,12.4,12.6,12.8,13,13.2,13.4,13.6,13.8,14,14.2,14.4,14.6,14.8,15,15.2,15.4,15.6,15.8,16,16.2,16.4,16.6,16.8,17,17.2,17.4,17.6,17.8,18,18.2,18.4,18.6,18.8,19,19.2,19.4,19.6,19.8,20,20.2,20.4,20.6,20.8,21],
                 "grid": true, "gridColor": "#888888", "gridDash": [1, 2],
                 "gridOpacity": {"condition": {"test": "datum.value % 1 === 0", "value": 1}, "value": 0}}},
  "y": {"field": "y", "type": "quantitative", "scale": {"domain": [0.2, 1], "nice": false, "zero": false},
        "axis": {"orient": "left", "values": [0.2,0.3,0.4,0.5,0.6,0.7,0.8,0.9,1], "format": ".1~f",
                 "labelFont": "DejaVu Sans", "labelFontSize": 16, "labelColor": "black", "labelPadding": 15,
                 "tickSize": -4, "domain": false, "grid": true, "gridColor": "#888888", "gridDash": [1, 2],
                 "title": "Π (φ)", "titleFont": "Liberation Serif", "titleFontSize": 21, "titleFontWeight": "normal", "titleColor": "black", "titlePadding": 40}}
 }},
{"data": {"name": "ba"},
 "mark": {"type": "line", "color": "#2a2ae6", "strokeWidth": 1},
 "encoding": {
  "x": {"field": "x", "type": "quantitative",
        "axis": {"orient": "top", "title": null, "labels": false, "domain": false, "grid": false, "tickSize": -4,
                 "values": [0,0.2,0.4,0.6,0.8,1,1.2,1.4,1.6,1.8,2,2.2,2.4,2.6,2.8,3,3.2,3.4,3.6,3.8,4,4.2,4.4,4.6,4.8,5,5.2,5.4,5.6,5.8,6,6.2,6.4,6.6,6.8,7,7.2,7.4,7.6,7.8,8,8.2,8.4,8.6,8.8,9,9.2,9.4,9.6,9.8,10,10.2,10.4,10.6,10.8,11,11.2,11.4,11.6,11.8,12,12.2,12.4,12.6,12.8,13,13.2,13.4,13.6,13.8,14,14.2,14.4,14.6,14.8,15,15.2,15.4,15.6,15.8,16,16.2,16.4,16.6,16.8,17,17.2,17.4,17.6,17.8,18,18.2,18.4,18.6,18.8,19,19.2,19.4,19.6,19.8,20,20.2,20.4,20.6,20.8,21]}},
  "y": {"field": "y", "type": "quantitative",
        "axis": {"orient": "right", "title": null, "labels": false, "domain": false, "grid": false, "tickSize": -4,
                 "values": [0.2,0.3,0.4,0.5,0.6,0.7,0.8,0.9,1]}}
 }},
{"data": {"name": "la"},
 "mark": {"type": "text", "angle": 87, "align": "left", "baseline": "alphabetic", "font": "Liberation Sans", "fontSize": 11, "color": "#00dd00"},
 "encoding": {
  "x": {"field": "x", "type": "quantitative", "axis": null},
  "y": {"field": "y", "type": "quantitative", "axis": null},
  "text": {"field": "t"}
 }},
{"data": {"values": [{}]},
 "mark": {"type": "text", "font": "DejaVu Sans", "fontSize": 13, "color": "black", "align": "center", "baseline": "middle"},
 "encoding": {
  "x": {"datum": -3.87, "type": "quantitative", "axis": null},
  "y": {"datum": 0.989, "type": "quantitative", "axis": null},
  "text": {"value": "(a)"}
 }}
]
},
{
"width": 483, "height": 145,
"resolve": {"axis": {"x": "independent", "y": "independent"}},
"layer": [
{"data": {"name": "rb"},
 "mark": {"type": "point", "shape": "M-1,0L1,0M0,-1L0,1", "filled": false, "size": 30, "stroke": "#ff0000", "strokeWidth": 1, "opacity": 0.8},
 "encoding": {
  "x": {"field": "x", "type": "quantitative", "scale": {"domain": [0, 11], "nice": false, "zero": false},
        "axis": {"orient": "bottom", "title": null, "labels": false, "domain": false, "tickSize": -4,
                 "values": [0,0.2,0.4,0.6,0.8,1,1.2,1.4,1.6,1.8,2,2.2,2.4,2.6,2.8,3,3.2,3.4,3.6,3.8,4,4.2,4.4,4.6,4.8,5,5.2,5.4,5.6,5.8,6,6.2,6.4,6.6,6.8,7,7.2,7.4,7.6,7.8,8,8.2,8.4,8.6,8.8,9,9.2,9.4,9.6,9.8,10,10.2,10.4,10.6,10.8,11],
                 "grid": true, "gridColor": "#888888", "gridDash": [1, 2],
                 "gridOpacity": {"condition": {"test": "datum.value % 1 === 0", "value": 1}, "value": 0}}},
  "y": {"field": "y", "type": "quantitative", "scale": {"domain": [0.3, 1], "nice": false, "zero": false},
        "axis": {"orient": "left", "values": [0.3,0.4,0.5,0.6,0.7,0.8,0.9,1], "format": ".1~f",
                 "labelFont": "DejaVu Sans", "labelFontSize": 16, "labelColor": "black", "labelPadding": 18,
                 "tickSize": -4, "domain": false, "grid": true, "gridColor": "#888888", "gridDash": [1, 2],
                 "title": "Π (φ)", "titleFont": "Liberation Serif", "titleFontSize": 21, "titleFontWeight": "normal", "titleColor": "black", "titlePadding": 40}}
 }},
{"data": {"name": "bb"},
 "mark": {"type": "line", "color": "#2a2ae6", "strokeWidth": 1},
 "encoding": {
  "x": {"field": "x", "type": "quantitative",
        "axis": {"orient": "top", "title": null, "labels": false, "domain": false, "grid": false, "tickSize": -4,
                 "values": [0,0.2,0.4,0.6,0.8,1,1.2,1.4,1.6,1.8,2,2.2,2.4,2.6,2.8,3,3.2,3.4,3.6,3.8,4,4.2,4.4,4.6,4.8,5,5.2,5.4,5.6,5.8,6,6.2,6.4,6.6,6.8,7,7.2,7.4,7.6,7.8,8,8.2,8.4,8.6,8.8,9,9.2,9.4,9.6,9.8,10,10.2,10.4,10.6,10.8,11]}},
  "y": {"field": "y", "type": "quantitative",
        "axis": {"orient": "right", "title": null, "labels": false, "domain": false, "grid": false, "tickSize": -4,
                 "values": [0.3,0.4,0.5,0.6,0.7,0.8,0.9,1]}}
 }},
{"data": {"name": "lb"},
 "mark": {"type": "text", "angle": 78, "align": "left", "baseline": "alphabetic", "font": "Liberation Sans", "fontSize": 11.5, "color": "#00dd00"},
 "encoding": {
  "x": {"field": "x", "type": "quantitative", "axis": null},
  "y": {"field": "y", "type": "quantitative", "axis": null},
  "text": {"field": "t"}
 }},
{"data": {"values": [{}]},
 "mark": {"type": "text", "font": "DejaVu Sans", "fontSize": 13, "color": "black", "align": "center", "baseline": "middle"},
 "encoding": {
  "x": {"datum": -2.0, "type": "quantitative", "axis": null},
  "y": {"datum": 0.966, "type": "quantitative", "axis": null},
  "text": {"value": "(b)"}
 }}
]
}
],
"columns": 1,
"spacing": 18,
"align": "none",
"bounds": "full"
}
